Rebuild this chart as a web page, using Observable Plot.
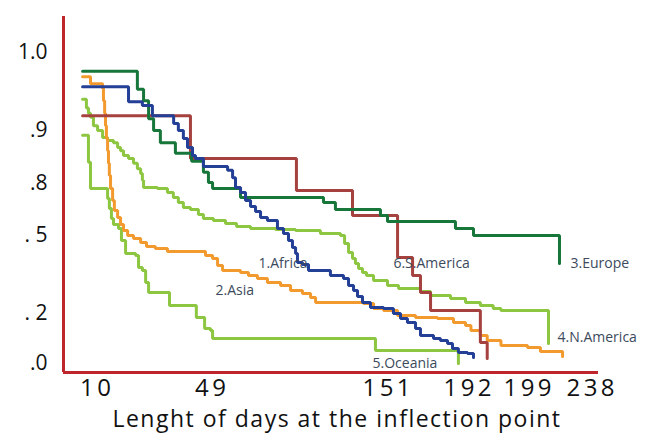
<!DOCTYPE html>
<html>
<head>
<meta charset="utf-8">
<script src="https://cdn.jsdelivr.net/npm/d3@7"></script>
<script src="https://cdn.jsdelivr.net/npm/@observablehq/plot@0.6"></script>
<style>
  html, body { margin: 0; padding: 0; background: #ffffff; }
  #chart svg { display: block; }
  #chart svg g[font-size="24"] { letter-spacing: 3.5px; }
  #chart svg g[font-size="23"] { letter-spacing: 1.5px; }
</style>
</head>
<body>
<div id="chart"></div>
<script>
// ---- data (days at inflection point, cumulative proportion) ----
const africaDays = [5.6,21.2,25.9,29.3,36.5,38.1,39.8,41.2,42.9,43.9,46.6,58.9,61.8,63.5,66.4,69.3,72.2,75.1,78.0,82.0,87.8,91.3,94.2,96.5,98.3,99.4,102.3,105.8,118.5,126.1,129.0,131.9,134.2,137.1,141.7,149.3,154.5,158.1,161.6,165.7,168.2,174.8,178.3,181.9,184.4,187.4,192.0,192.7];
const africaSurv = [0.956,0.937,0.932,0.919,0.909,0.900,0.885,0.868,0.853,0.847,0.832,0.825,0.811,0.777,0.748,0.702,0.667,0.638,0.604,0.587,0.540,0.511,0.481,0.454,0.431,0.396,0.388,0.365,0.346,0.335,0.308,0.288,0.265,0.242,0.223,0.219,0.200,0.180,0.164,0.140,0.112,0.100,0.092,0.080,0.060,0.044,0.040,0.024];

const asiaDays = [5.6,8.3,12.4,12.7,13.1,13.4,13.7,14.1,14.4,14.7,15.1,15.8,16.4,17.5,18.5,19.5,20.9,22.9,25.3,27.3,30.3,34.4,47.3,50.2,53.1,56.0,66.4,71.0,76.2,82.0,89.6,95.4,102.3,107.0,109.9,137.7,143.5,149.3,156.6,165.7,176.8,184.9,191.0,192.4,193.5,194.3,195.9,199.0,207.0,220.7];
const asiaSurv = [0.969,0.960,0.954,0.938,0.922,0.906,0.885,0.862,0.838,0.815,0.771,0.702,0.644,0.604,0.563,0.529,0.500,0.488,0.473,0.458,0.450,0.438,0.423,0.412,0.385,0.365,0.358,0.346,0.335,0.319,0.308,0.288,0.277,0.262,0.242,0.238,0.219,0.212,0.192,0.184,0.180,0.164,0.152,0.132,0.112,0.092,0.072,0.064,0.048,0.028];

const europeDays = [5.6,24.2,26.3,28.0,29.7,32.0,37.1,42.6,46.6,48.3,50.2,66.4,114.5,121.4,147.5,151.5,185.9,192.7,218.8];
const europeSurv = [0.976,0.953,0.938,0.915,0.900,0.877,0.857,0.842,0.821,0.802,0.771,0.719,0.690,0.650,0.615,0.581,0.540,0.500,0.392];

const nAmericaDays = [5.6,6.9,7.6,8.3,9.3,10.7,12.4,14.1,16.1,17.5,18.5,19.5,21.2,22.9,24.2,25.3,25.9,26.3,31.0,34.4,36.4,38.1,39.8,42.2,44.9,46.6,50.7,57.7,64.1,72.2,86.7,98.3,112.7,124.3,126.7,129.0,131.3,133.0,134.8,137.1,139.4,143.5,151.5,157.1,168.2,173.3,183.4,191.0,193.5,195.0,195.9,212.0];
const nAmericaSurv = [0.940,0.929,0.922,0.917,0.906,0.900,0.887,0.881,0.877,0.868,0.862,0.853,0.847,0.838,0.828,0.819,0.806,0.777,0.771,0.748,0.719,0.690,0.662,0.650,0.621,0.598,0.587,0.569,0.552,0.540,0.535,0.529,0.512,0.500,0.469,0.435,0.412,0.392,0.373,0.358,0.346,0.327,0.308,0.296,0.285,0.269,0.258,0.242,0.231,0.219,0.212,0.080];

const oceaniaDays = [5.6,7.6,8.3,14.1,14.7,15.4,16.1,17.8,18.8,20.2,23.6,24.6,25.9,27.0,28.0,35.1,44.2,47.0,49.0,50.2,144.6,187.4];
const oceaniaSurv = [0.891,0.840,0.771,0.713,0.656,0.598,0.563,0.540,0.481,0.431,0.423,0.377,0.365,0.319,0.281,0.231,0.184,0.140,0.132,0.100,0.052,0.000];

const sAmericaDays = [5.6,42.2,98.8,131.3,156.6,164.2,168.2,173.3,193.5,194.3];
const sAmericaSurv = [0.919,0.847,0.760,0.615,0.415,0.346,0.281,0.212,0.084,0.020];

const xTickValues = [10, 49, 151, 192, 199, 238];
const xTickLabels = ["10", "49", "151", "192", "199", "238"];
const yTickValues = [1.0, 0.9, 0.8, 0.5, 0.2, 0.0];
const yTickLabels = ["1.0", ".9", ".8", ". 5", ". 2", ".0"];

const labelNames = ["1.Africa", "2.Asia", "3.Europe", "4.N.America", "5.Oceania", "6.S.America"];
const labelDays = [76.8, 51.9, 225.6, 217.6, 142.9, 154.5];
const labelSurv = [0.392, 0.288, 0.392, 0.104, 0.0, 0.392];

const xTitle = "Lenght of days at the inflection point";

// ---- build tables ----
const series = (days, surv) => days.map((d, i) => ({day: d, surv: surv[i]}));
const africa = series(africaDays, africaSurv);
const asia = series(asiaDays, asiaSurv);
const europe = series(europeDays, europeSurv);
const nAmerica = series(nAmericaDays, nAmericaSurv);
const oceania = series(oceaniaDays, oceaniaSurv);
const sAmerica = series(sAmericaDays, sAmericaSurv);
const labels = labelNames.map((n, i) => ({name: n, day: labelDays[i], surv: labelSurv[i]}));

// axis extent (domain ends of the drawn frame)
const xMin = -0.9, xMax = 243;
const yMin = -0.036, yMax = 1.046;

const AX = "#be262b";
const lineOpts = {x: "day", y: "surv", curve: "step-after", strokeWidth: 3, strokeLinejoin: "miter"};

const chart = Plot.plot({
  width: 647,
  height: 433,
  marginTop: 0, marginRight: 0, marginBottom: 0, marginLeft: 0,
  style: {background: "#ffffff", fontFamily: "'Open Sans', sans-serif"},
  x: {type: "linear", domain: [xMin, 10, 49, 151, 192, 199, 238, xMax],
      range: [63, 95, 210, 386, 467, 527, 590, 598], axis: null},
  y: {type: "linear", domain: [yMin, 0, 0.2, 0.5, 0.8, 0.9, 1.0, yMax],
      range: [372, 363, 313, 235, 183, 130, 52, 16], axis: null},
  marks: [
    Plot.line(oceania, {...lineOpts, stroke: "#8dc641"}),
    Plot.line(nAmerica, {...lineOpts, stroke: "#8dc641"}),
    Plot.line(asia, {...lineOpts, stroke: "#f39a2e"}),
    Plot.line(sAmerica, {...lineOpts, stroke: "#a5413f"}),
    Plot.line(europe, {...lineOpts, stroke: "#17763a"}),
    Plot.line(africa, {...lineOpts, stroke: "#233f96"}),
    Plot.ruleX([xMin], {y1: yMin, y2: yMax, stroke: AX, strokeWidth: 3}),
    Plot.ruleY([yMin], {x1: xMin, x2: xMax, stroke: AX, strokeWidth: 3}),
    Plot.text(labels, {x: "day", y: "surv", text: "name", textAnchor: "start",
      fontSize: 14, fill: "#3c4a5c"}),
    Plot.text(yTickValues, {y: d => d, text: (d, i) => yTickLabels[i], frameAnchor: "left",
      textAnchor: "end", dx: 47, fontSize: 21, fill: "#111111"}),
    Plot.text(xTickValues, {x: d => d, text: (d, i) => xTickLabels[i], frameAnchor: "bottom",
      lineAnchor: "middle", dx: 1.75, dy: -45, fontSize: 24, fill: "#111111"}),
    Plot.text([xTitle], {text: d => d, frameAnchor: "bottom", lineAnchor: "middle",
      dx: 13, dy: -14, fontSize: 23, fill: "#111111"})
  ]
});
document.getElementById("chart").appendChild(chart);
</script>
</body>
</html>
